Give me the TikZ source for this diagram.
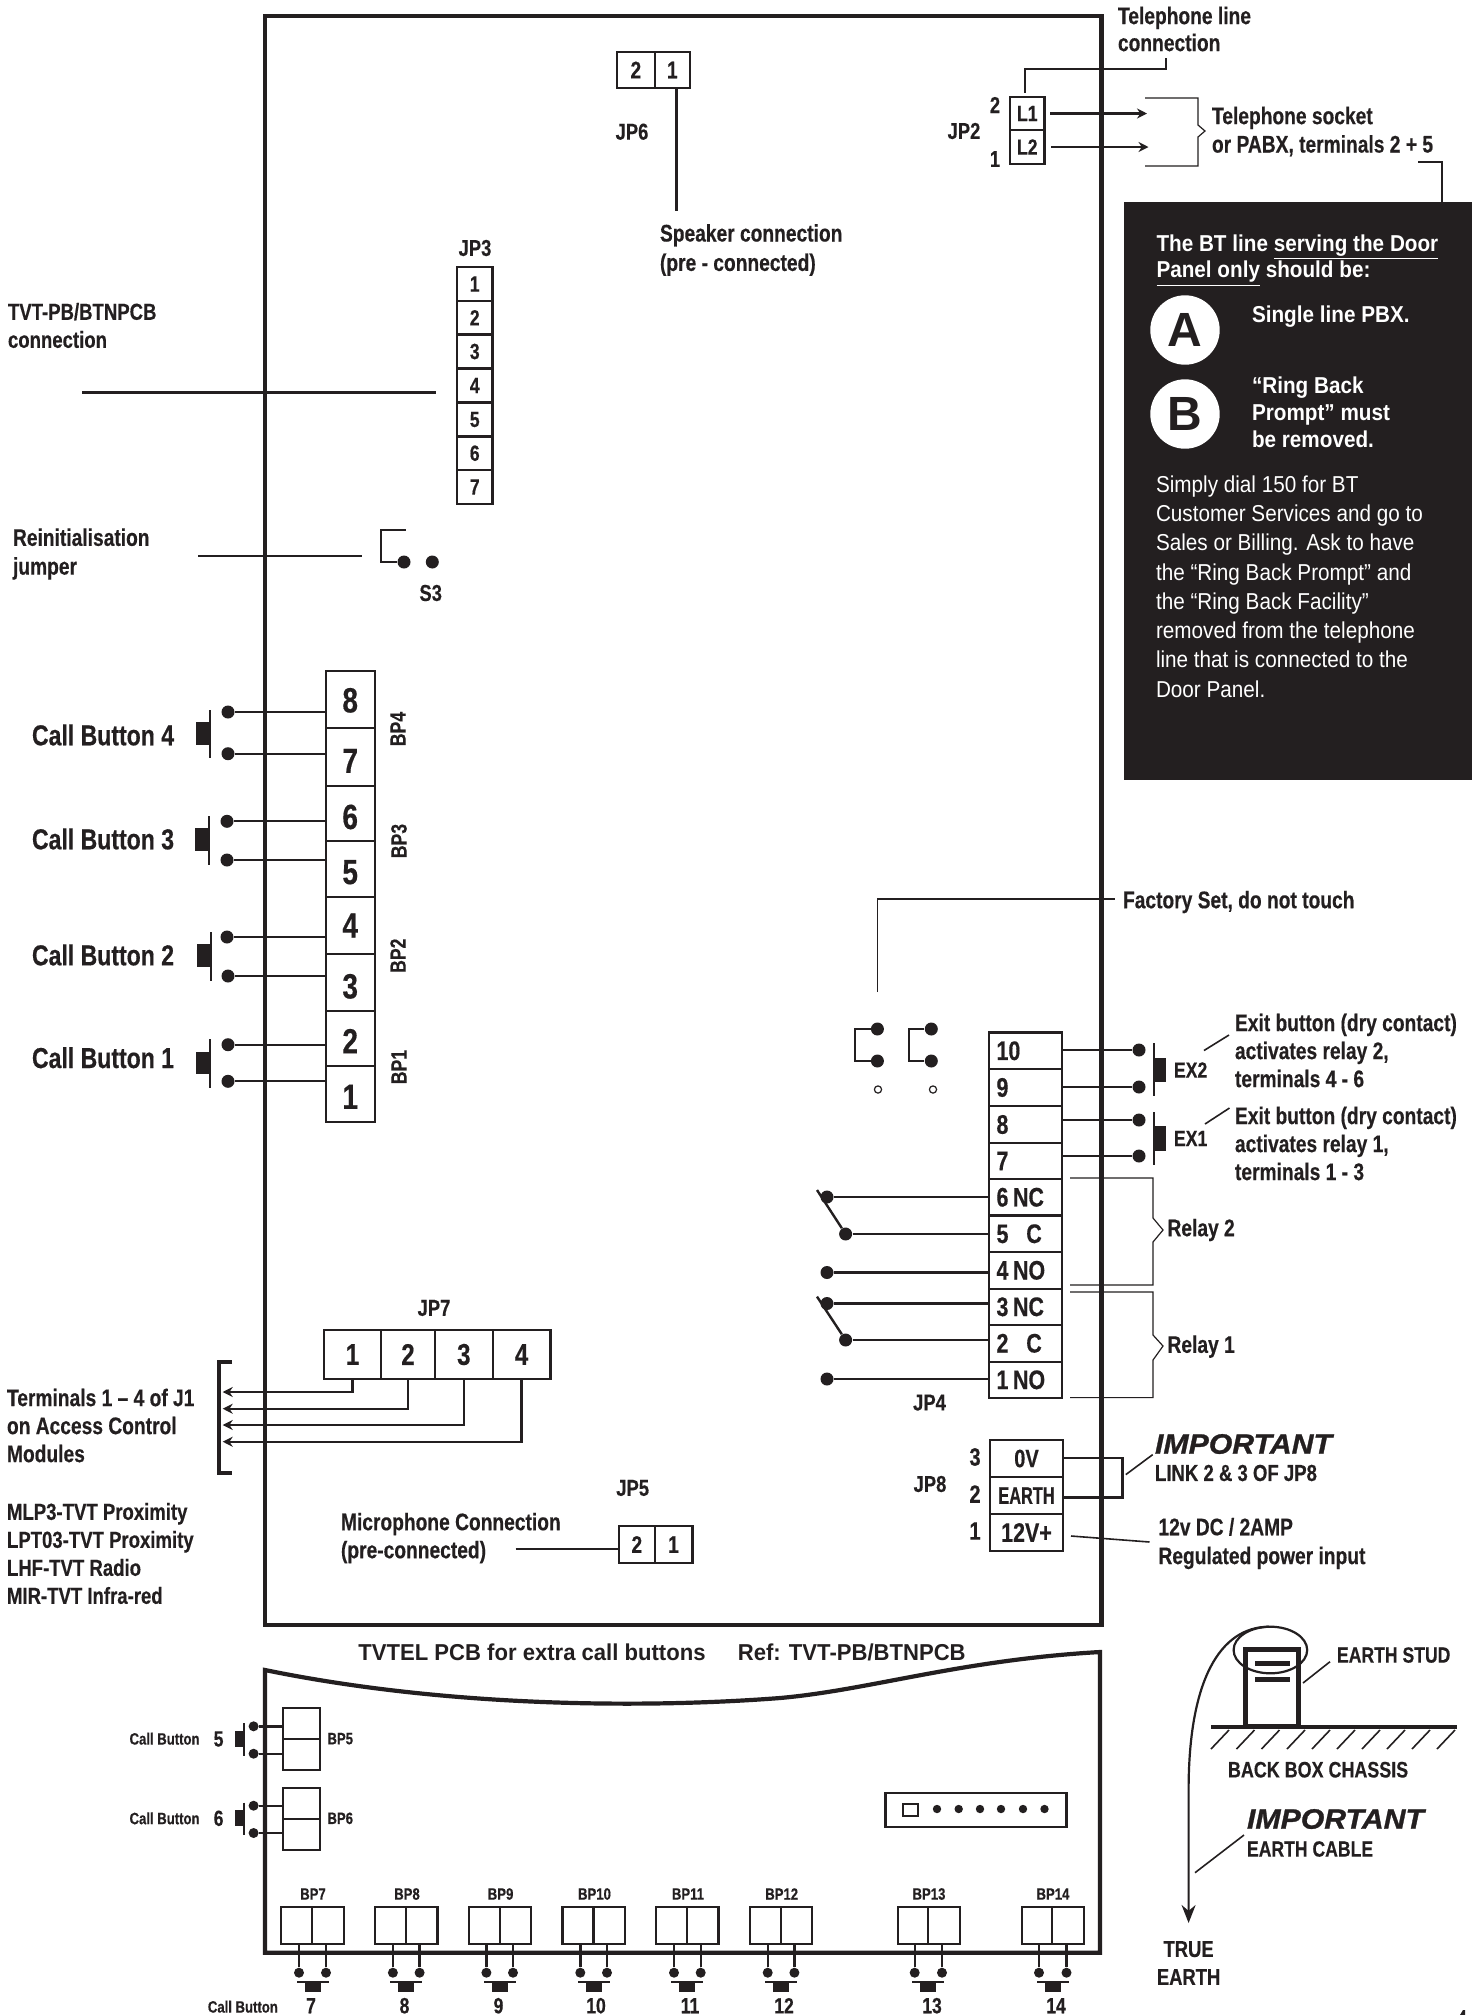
\documentclass[tikz,border=0pt]{standalone}
\usepackage{fontspec}
\usepackage{graphicx}
\setmainfont{Liberation Sans}[FakeStretch=0.8,BoldFeatures={FakeBold=0.4}]
\newfontfamily\widefont{Liberation Sans}
\newfontfamily\panelfont{Liberation Sans}[FakeStretch=0.9]
\newfontfamily\titlefont{Liberation Sans}[FakeStretch=0.96]
\newfontfamily\impfont{Liberation Sans}[FakeStretch=1.08,BoldItalicFeatures={FakeBold=1}]
\usetikzlibrary{arrows.meta}
\definecolor{ink}{HTML}{231F20}
\newcommand\cbox[7][]{%
  \pgfmathsetmacro\cxx{(#3+#5)/2}\pgfmathsetmacro\cyy{(#4+#6)/2}%
  \pgfmathsetmacro\cww{abs(#5-#3)/2}\pgfmathsetmacro\chh{abs(#6-#4)/2}%
  \node[cellbox,minimum width=\cww pt,minimum height=\chh pt,#1] (#2) at (\cxx,\cyy) {#7};}
\newcommand\pressbtn[6]{% linex ytop ybot blockx by1 by2
  \draw[btnline] (#1,#2) -- (#1,#3);
  \fill[ink] (#4,#5) rectangle (#1,#6);}
\newcommand\dropdigit[2]{\raisebox{#1}[\height][\depth]{#2}}
\newcommand\bottomunit[7]{% num x0 xdiv x1 wire-a wire-b number-x
  \cbox{b#1l}{#2}{1907}{#3}{1944}{}
  \cbox{b#1r}{#3}{1907}{#4}{1944}{}
  \node[dot5] (p#1a) at (#5,1972.7) {};
  \node[dot5] (p#1b) at (#6,1972.7) {};
  \draw[wire] (p#1a) -- (b#1l.south -| p#1a);
  \draw[wire] (p#1b) -- (b#1r.south -| p#1b);
  \pgfmathsetmacro\mm{(#5+#6)/2}
  \fill[ink] (\mm-16,1980.8) rectangle (\mm+16,1983);
  \fill[ink] (\mm-8,1983) rectangle (\mm+8,1991.7);
  \node[lbs] (bl#1) at (#3+1,1894) {BP#1};
  \node[num] (n#1) at (#7,2005.7) {#1};}
\tikzset{
  x=0.5pt,y=-0.5pt,
  cellbox/.style={draw=ink,line width=1.1pt,inner sep=0pt,outer sep=0pt,text=ink,font=\bfseries\fontsize{11}{13}\selectfont},
  big/.style={font=\bfseries\fontsize{17.5}{20}\selectfont},
  mid/.style={font=\bfseries\fontsize{15}{18}\selectfont},
  med/.style={font=\bfseries\fontsize{12}{15}\selectfont},
  term/.style={font=\bfseries\fontsize{13.4}{16}\selectfont,text width=29pt,align=left},
  wire/.style={draw=ink,line width=1.2pt},
  thin/.style={draw=ink,line width=0.6pt},
  lead/.style={draw=ink,line width=0.8pt},
  btnline/.style={draw=ink,line width=1pt},
  dot/.style={circle,fill=ink,inner sep=0pt,minimum size=6.5pt},
  dot5/.style={circle,fill=ink,inner sep=0pt,minimum size=5pt},
  lbl/.style={inner sep=0pt,outer sep=0pt,text=ink,anchor=west,align=left,font=\bfseries\fontsize{12}{#1}\selectfont},
  lbl/.default=14,
  lbn/.style={inner sep=0pt,outer sep=0pt,text=ink,anchor=west,align=left,font=\bfseries\fontsize{11.6}{14}\selectfont},
  capl/.style={inner sep=0pt,outer sep=0pt,text=ink,anchor=west,align=left,font=\bfseries\fontsize{11}{14}\selectfont},
  ctr/.style={inner sep=0pt,outer sep=0pt,text=ink,align=center,font=\bfseries\fontsize{11.5}{14}\selectfont},
  call/.style={inner sep=0pt,outer sep=0pt,text=ink,anchor=west,font=\bfseries\fontsize{14.4}{16}\selectfont},
  lbs/.style={inner sep=0pt,outer sep=0pt,text=ink,font=\bfseries\fontsize{8.2}{10}\selectfont},
  num/.style={inner sep=0pt,outer sep=0pt,text=ink,font=\bfseries\fontsize{11}{13}\selectfont},
  rot/.style={inner sep=0pt,outer sep=0pt,text=ink,rotate=90,font=\bfseries\fontsize{11}{13}\selectfont},
  imp/.style={inner sep=0pt,outer sep=0pt,text=ink,anchor=west,font=\impfont\bfseries\itshape\fontsize{14}{16}\selectfont},
  arr/.style={wire,-{Stealth[length=5pt,width=5pt]}},
  panel/.style={inner sep=0pt,outer sep=0pt,text=white,anchor=west,align=left},
}
\begin{document}
\begin{tikzpicture}
\useasboundingbox (0,0) rectangle (1484,2015);
\fill[white] (0,0) rectangle (1484,2015);

% main board
\node[draw=ink,line width=2.3pt,minimum width=418.25pt,minimum height=804.5pt,inner sep=0pt,outer sep=0pt] (board) at (683.25,820.5) {};

% JP2
\cbox{l1}{1010}{97}{1044.5}{130}{L1}
\cbox{l2}{1010}{130}{1044.5}{164}{L2}
\node[ctr] (jp2a) at (995,105) {2};
\node[ctr] (jp2b) at (995,159) {1};
\node[ctr] (jp2) at (964,131) {JP2};
\node[lbl=13.5] (telline) at (1118,29) {Telephone line\\connection};
\coordinate (tl1) at (1166,58);
\coordinate (tl2) at (1025,93);
\draw[lead] (tl1) -- (1166,69) -- (tl2 |- 0,69) -- (tl2);
\coordinate (ta1) at (1147,113.5);
\coordinate (ta2) at (1148.5,147);
\draw[arr] (1050,113.5) -- (ta1);
\draw[arr] (1051,147) -- (ta2);
\draw[thin] (1145,98) -- (1198,98) -- (1198,125) -- (1205,131) -- (1198,137) -- (1198,166) -- (1145,166);
\node[lbl=14.2] (socket) at (1212,131.5) {Telephone socket\\or PABX, terminals 2 + 5};

% black panel
\node[fill=ink,minimum width=174pt,minimum height=289pt,inner sep=0pt,outer sep=0pt] (blackpanel) at (1298,490.9) {};
\draw[wire] (1418,162) -- (1442,162) -- (blackpanel.north -| 1442,0);
\node[panel,font=\panelfont\bfseries\fontsize{11.5}{13.3}\selectfont] (bt) at (1156.5,260.5) {The BT line \underline{serving the Door}\\\underline{Panel only} should be:};
\node[circle,fill=white,minimum size=34.7pt,inner sep=0pt,text=ink,font=\widefont\bfseries\fontsize{24}{26}\selectfont] (cA) at (1185,330) {A};
\node[circle,fill=white,minimum size=34.7pt,inner sep=0pt,text=ink,font=\widefont\bfseries\fontsize{24}{26}\selectfont] (cB) at (1185,414) {B};
\node[panel,font=\panelfont\bfseries\fontsize{11.5}{13}\selectfont] (single) at (1252,317) {Single line PBX.};
\node[panel,font=\panelfont\bfseries\fontsize{11.5}{13.5}\selectfont] (ring) at (1252,412) {“Ring Back\\Prompt” must\\be removed.};
\node[panel,font=\panelfont\fontsize{11.5}{14.65}\selectfont] (dial) at (1156,586.5) {Simply dial 150 for BT\\Customer Services and go to\\Sales or Billing. Ask to have\\the “Ring Back Prompt” and\\the “Ring Back Facility”\\removed from the telephone\\line that is connected to the\\Door Panel.};

% JP6
\cbox[med]{j6a}{617}{52}{654.7}{88}{2}
\cbox[med]{j6b}{654.7}{52}{690}{88}{1}
\node[ctr] (jp6) at (632,131.7) {JP6};
\node[lbl=14.7] (speaker) at (660,250) {Speaker connection\\(pre - connected)};
\coordinate (spk) at (676.3,211);
\draw[wire] (j6b.south -| spk) -- (spk);

% JP3
\node[ctr] (jp3) at (475,248) {JP3};
\cbox{j3a}{457}{267}{492.5}{301}{1}
\cbox{j3b}{457}{301}{492.5}{334.5}{2}
\cbox{j3c}{457}{334.5}{492.5}{368.5}{3}
\cbox{j3d}{457}{368.5}{492.5}{402.5}{4}
\cbox{j3e}{457}{402.5}{492.5}{436.5}{5}
\cbox{j3f}{457}{436.5}{492.5}{470}{6}
\cbox{j3g}{457}{470}{492.5}{504}{7}
\node[lbn] (tvt) at (8,325.5) {TVT-PB/BTNPCB\\connection};
\coordinate (tv1) at (82,392.5);
\coordinate (tv2) at (436,392.5);
\draw[wire] (tv1) -- (tv2);

% S3
\node[lbl=14.4] (reinit) at (13,554) {Reinitialisation\\jumper};
\coordinate (ri1) at (198,556);
\coordinate (ri2) at (362,556);
\draw[wire] (ri1) -- (ri2);
\node[dot] (s3a) at (404,562) {};
\node[dot] (s3b) at (432.3,562) {};
\coordinate (s3t) at (405.7,530);
\draw[wire] (s3t) -- (381,530) -- (381,562) -- (s3a);
\node[ctr] (s3) at (430.7,593) {S3};

% call buttons 1-4
\cbox[big]{c8}{325.7}{670.7}{374.7}{728}{\dropdigit{-.5pt}{8}}
\cbox[big]{c7}{325.7}{728}{374.7}{785.7}{\dropdigit{-2pt}{7}}
\cbox[big]{c6}{325.7}{785.7}{374.7}{841}{\dropdigit{-1.8pt}{6}}
\cbox[big]{c5}{325.7}{841}{374.7}{897}{\dropdigit{-1.6pt}{5}}
\cbox[big]{c4}{325.7}{897}{374.7}{954}{4}
\cbox[big]{c3}{325.7}{954}{374.7}{1010.7}{\dropdigit{-2pt}{3}}
\cbox[big]{c2}{325.7}{1010.7}{374.7}{1066}{\dropdigit{-1.4pt}{2}}
\cbox[big]{c1}{325.7}{1066}{374.7}{1122}{\dropdigit{-1.4pt}{1}}
\node[dot] (d8) at (228,712) {};
\node[dot] (d7) at (228,753.7) {};
\node[dot] (d6) at (227,821.3) {};
\node[dot] (d5) at (227,860) {};
\node[dot] (d4) at (227,937) {};
\node[dot] (d3) at (228,976) {};
\node[dot] (d2) at (228,1044.7) {};
\node[dot] (d1) at (228,1081.3) {};
\foreach \k in {1,...,8} {\draw[wire,line width=1pt] (d\k) -- (c\k.west |- d\k);}
\pressbtn{210}{710}{758}{196}{722}{745}
\pressbtn{209}{816}{865}{195}{828}{851}
\pressbtn{211}{932}{981}{197}{944}{967}
\pressbtn{210}{1039}{1087.7}{196}{1051.7}{1074}
\node[call] (cb4) at (32,735) {Call Button 4};
\node[call] (cb3) at (32,839) {Call Button 3};
\node[call] (cb2) at (32,955) {Call Button 2};
\node[call] (cb1) at (32,1057.7) {Call Button 1};
\node[rot] (bp4) at (398,729) {BP4};
\node[rot] (bp3) at (399,841) {BP3};
\node[rot] (bp2) at (398,955.7) {BP2};
\node[rot] (bp1) at (399,1067) {BP1};

% Factory set
\node[dot] (fa) at (877.4,1029) {};
\node[dot] (fb) at (877.4,1061) {};
\node[dot] (fc) at (931.3,1029) {};
\node[dot] (fd) at (931.3,1061) {};
\draw[wire] (fa) -- (855,1029) -- (855,1061) -- (fb);
\draw[wire] (fc) -- (909,1029) -- (909,1061) -- (fd);
\node[draw=ink,circle,line width=.6pt,minimum size=3.6pt,inner sep=0pt] (oa) at (878,1089.5) {};
\node[draw=ink,circle,line width=.6pt,minimum size=3.6pt,inner sep=0pt] (ob) at (933,1089.5) {};
\node[lbl] (factory) at (1123,902) {Factory Set, do not touch};
\coordinate (fs1) at (877.5,992);
\coordinate (fs2) at (1115,899);
\draw[lead] (fs1) -- (fs1 |- fs2) -- (fs2);

% JP4
\cbox[term]{t10}{989}{1032.5}{1062}{1069}{10}
\cbox[term]{t9}{989}{1069}{1062}{1106}{9}
\cbox[term]{t8}{989}{1106}{1062}{1143}{8}
\cbox[term]{t7}{989}{1143}{1062}{1179}{7}
\cbox[term]{t6}{989}{1179}{1062}{1215.5}{6\kern.17em NC}
\cbox[term]{t5}{989}{1215.5}{1062}{1252}{5 \ C}
\cbox[term]{t4}{989}{1252}{1062}{1288.6}{4\kern.17em NO}
\cbox[term]{t3}{989}{1288.6}{1062}{1325}{3\kern.17em NC}
\cbox[term]{t2}{989}{1325}{1062}{1361.6}{2 \ C}
\cbox[term]{t1}{989}{1361.6}{1062}{1398}{1\kern.17em NO}
\node[dot] (e10) at (1139,1050) {};
\node[dot] (e9) at (1139,1087) {};
\node[dot] (e8) at (1139,1120) {};
\node[dot] (e7) at (1139,1156) {};
\foreach \k in {7,8,9,10} {\draw[wire] (t\k.east |- e\k) -- (e\k);}
\node[dot] (e6) at (827,1197) {};
\node[dot] (e5) at (845.6,1234) {};
\node[dot] (e4) at (827,1272.5) {};
\node[dot] (e3) at (827,1303.5) {};
\node[dot] (e2) at (845.6,1340) {};
\node[dot] (e1) at (827,1379) {};
\foreach \k in {1,...,6} {\draw[wire] (e\k) -- (t\k.west |- e\k);}
\coordinate (sw2) at (817,1190);
\coordinate (sw1) at (817,1296.6);
\draw[wire] (sw2) -- (e5);
\draw[wire] (sw1) -- (e2);
\pressbtn{1153.6}{1043}{1096}{1166}{1058}{1082}
\pressbtn{1153.6}{1112}{1164.6}{1166}{1126}{1151}
\node[capl] (ex2) at (1174,1070) {EX2};
\node[capl] (ex1) at (1174,1138.5) {EX1};
\draw[lead] (1204,1050.5) -- (1229,1035);
\draw[lead] (1205,1124) -- (1229.5,1108);
\node[lbl] (exit2) at (1235,1050.5) {Exit button (dry contact)\\activates relay 2,\\terminals 4 - 6};
\node[lbl] (exit1) at (1235,1143.5) {Exit button (dry contact)\\activates relay 1,\\terminals 1 - 3};
\draw[thin] (1070,1178) -- (1153,1178) -- (1153,1218) -- (1163,1230) -- (1153,1242) -- (1153,1285) -- (1070,1285);
\draw[thin] (1070,1292) -- (1153,1292) -- (1153,1335) -- (1163,1346) -- (1153,1360) -- (1153,1397.6) -- (1070,1397.6);
\node[lbl] (relay2) at (1167.5,1230) {Relay 2};
\node[lbl] (relay1) at (1167.5,1346.6) {Relay 1};
\node[ctr] (jp4) at (929.5,1402.6) {JP4};

% JP8
\cbox[font=\bfseries\fontsize{12.5}{15}\selectfont]{g3}{990}{1440}{1063}{1477}{0V}
\cbox[font=\bfseries\fontsize{12}{15}\selectfont]{g2}{990}{1477}{1063}{1514}{\scalebox{.85}[1]{EARTH}}
\cbox[font=\bfseries\fontsize{13.4}{15}\selectfont]{g1}{990}{1514}{1063}{1551}{12V+}
\node[ctr] (jp8) at (930,1484) {JP8};
\node[ctr,font=\bfseries\fontsize{12.5}{15}\selectfont] (g3n) at (975,1457) {3};
\node[ctr,font=\bfseries\fontsize{12.5}{15}\selectfont] (g2n) at (975,1494) {2};
\node[ctr,font=\bfseries\fontsize{12.5}{15}\selectfont] (g1n) at (975,1531) {1};
\coordinate (lk) at (1122.6,1458);
\coordinate (lm) at (1122.6,1497.5);
\draw[wire] (g3.east |- lk) -- (lk) -- (lm) -- (g2.east |- lm);
\draw[lead] (1125.8,1474.6) -- (1152.7,1454.6);
\node[imp] (imp1) at (1155,1444) {IMPORTANT};
\node[lbn] (link) at (1155,1473) {LINK 2 \& 3 OF JP8};
\node[lbl=14.4] (power) at (1158.5,1543.5) {12v DC / 2AMP\\Regulated power input};
\draw[lead] (1071,1536) -- (1149.5,1542);

% JP7
\node[ctr] (jp7) at (434,1308) {JP7};
\cbox[mid]{q1}{324}{1330}{381}{1379}{1}
\cbox[mid]{q2}{381}{1330}{435}{1379}{2}
\cbox[mid]{q3}{435}{1330}{492.7}{1379}{3}
\cbox[mid]{q4}{492.7}{1330}{550.5}{1379}{4}
\coordinate (qa) at (222.7,1392);
\coordinate (qb) at (222.7,1408.7);
\coordinate (qc) at (222.7,1425);
\coordinate (qd) at (222.7,1441.7);
\draw[arr] (q1.south) -- (q1.south |- qa) -- (qa);
\draw[arr] (q2.south) -- (q2.south |- qb) -- (qb);
\draw[arr] (q3.south) -- (q3.south |- qc) -- (qc);
\draw[arr] (q4.south) -- (q4.south |- qd) -- (qd);
\draw[draw=ink,line width=1.8pt] (232,1361.7) -- (219,1361.7) -- (219,1473) -- (232,1473);
\node[lbl] (termj) at (7,1425.5) {Terminals 1 – 4 of J1\\on Access Control\\Modules};
\node[lbn] (mods) at (7,1553.5) {MLP3-TVT Proximity\\LPT03-TVT Proximity\\LHF-TVT Radio\\MIR-TVT Infra-red};

% JP5
\node[ctr] (jp5) at (632.7,1488) {JP5};
\cbox[med]{m2}{619}{1526}{654.7}{1563}{2}
\cbox[med]{m1}{654.7}{1526}{692.4}{1563}{1}
\node[lbl] (mic) at (341,1538) {Microphone Connection\\(pre-connected)};
\coordinate (mc) at (515.6,1549);
\draw[wire] (mc) -- (m2.west |- mc);

% extra PCB
\node[inner sep=0pt,text=ink,anchor=west,font=\bfseries\fontsize{11.5}{14}\selectfont] (title) at (358,1652) {\titlefont TVTEL PCB for extra call buttons};
\node[inner sep=0pt,text=ink,anchor=west,font=\bfseries\fontsize{11.5}{14}\selectfont] (ref) at (737.5,1652) {\titlefont Ref: TVT-PB/BTNPCB};
\draw[draw=ink,line width=2.1pt,miter limit=10] (265,1670) .. controls (450,1708) and (650,1708) .. (780,1698) .. controls (870,1690) and (960,1660) .. (1100,1652) -- (1100,1952.7) -- (265,1952.7) -- cycle;

\cbox{b5a}{283}{1708}{319.6}{1739}{}
\cbox{b5b}{283}{1739}{319.6}{1770}{}
\cbox{b6a}{283}{1787.7}{319.6}{1819}{}
\cbox{b6b}{283}{1819}{319.6}{1850}{}
\node[dot5] (s5a) at (253.6,1726.3) {};
\node[dot5] (s5b) at (253.6,1753.7) {};
\node[dot5] (s6a) at (253.6,1805.7) {};
\node[dot5] (s6b) at (253.6,1833) {};
\draw[wire] (s5a) -- (b5a.west |- s5a);
\draw[wire] (s5b) -- (b5b.west |- s5b);
\draw[wire] (s6a) -- (b6a.west |- s6a);
\draw[wire] (s6b) -- (b6b.west |- s6b);
\pressbtn{244.3}{1723}{1755.7}{235}{1730.7}{1746.7}
\pressbtn{244.3}{1802.7}{1835}{235}{1810}{1826}
\node[lbs,anchor=west] (cb5) at (129.6,1738.7) {Call Button};
\node[num] (n5) at (218.6,1739) {5};
\node[lbs,anchor=west] (bp5) at (327.5,1738.7) {BP5};
\node[lbs,anchor=west] (cb6) at (129.6,1818.3) {Call Button};
\node[num] (n6) at (218.6,1818.3) {6};
\node[lbs,anchor=west] (bp6) at (327.5,1818.3) {BP6};

\bottomunit{7}{281}{312}{343.6}{299}{326}{311}
\bottomunit{8}{374.6}{406}{437.5}{392.9}{419.6}{404.5}
\bottomunit{9}{468.6}{499.6}{531}{486.4}{513}{498.5}
\bottomunit{10}{562.5}{593.5}{625}{580.3}{607}{596}
\bottomunit{11}{656}{687}{718.5}{674}{700.7}{690}
\bottomunit{12}{749.7}{780.7}{812}{767.7}{794.4}{784}
\bottomunit{13}{897.6}{928}{960}{914.7}{942}{932}
\bottomunit{14}{1021.6}{1052}{1084}{1039}{1066.5}{1056}
\node[lbs,anchor=west] (cb7) at (207.9,2006.7) {Call Button};

% connector strip
\node[draw=ink,line width=1.1pt,minimum width=90.5pt,minimum height=17pt,inner sep=0pt] (strip) at (976,1810) {};
\node[draw=ink,line width=1pt,minimum width=7.5pt,minimum height=6.3pt,inner sep=0pt] (sq) at (910.3,1810) {};
\foreach \n/\xx in {a/937,b/958.7,c/980,d/1001,e/1023,f/1044.5} {\node[circle,fill=ink,minimum size=4.2pt,inner sep=0pt] (sd\n) at (\xx,1809) {};}

% earth stud
\node[draw=ink,line width=2.2pt,minimum width=26.5pt,minimum height=38.3pt,inner sep=0pt] (stud) at (1272,1687.6) {};
\fill[ink] (1255,1660.8) rectangle (1289.7,1665.5);
\fill[ink] (1255,1676.8) rectangle (1289.7,1681.5);
\draw[draw=ink,line width=2pt] (1211,1727) -- (1457,1727);
\foreach \xx in {1211,1236.5,1261.5,1287,1312,1337,1362,1387,1412,1437} {\draw[lead] (\xx,1749) -- (\xx+18,1730);}
\draw[draw=ink,line width=1.1pt] (1270.4,1650) ellipse [x radius=36.8,y radius=23.3];
\coordinate (cabletop) at (1269,1626.7);
\coordinate (cableend) at (1188.6,1923);
\draw[draw=ink,line width=1.1pt,-{Stealth[length=9pt,width=7pt]}] (cabletop) .. controls (1220,1627) and (1188.6,1680) .. (1188.6,1790) -- (cableend);
\draw[lead] (1303,1683) -- (1330,1661.7);
\draw[lead] (1244,1835) -- (1195,1872.7);
\node[capl] (earthstud) at (1337,1655) {EARTH STUD};
\node[capl,font=\bfseries\fontsize{11.2}{14}\selectfont] (chassis) at (1228,1769.7) {BACK BOX CHASSIS};
\node[imp] (imp2) at (1247,1819) {IMPORTANT};
\node[capl] (cable) at (1247,1849) {EARTH CABLE};
\node[ctr] (trueearth) at (1188.6,1963) {TRUE\\EARTH};
\fill[ink] (1460,2015) -- (1463,2010) -- (1465,2010) -- (1465,2015) -- cycle;
\end{tikzpicture}
\end{document}
